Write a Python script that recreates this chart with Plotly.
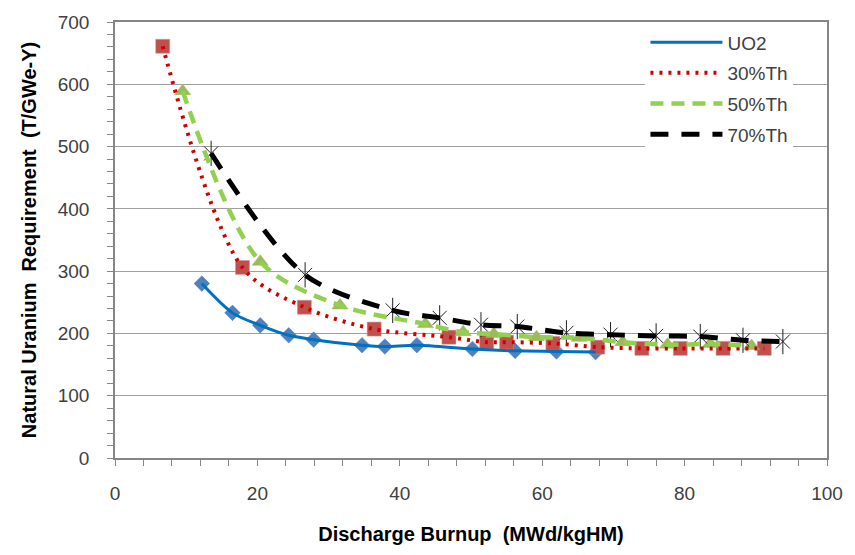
import plotly.graph_objects as go

# Data
burnup_uo2 = [12.2, 16.5, 20.4, 24.4, 27.9, 34.7, 37.9, 42.4, 50.2, 56.2, 62.0, 67.5]
nu_uo2 = [280, 233, 213, 197, 190, 181, 179, 181, 175, 172, 171, 170]

burnup_th30 = [6.7, 17.9, 26.6, 36.4, 46.9, 52.2, 55.0, 61.5, 67.8, 74.0, 79.4, 85.4, 91.2]
nu_th30 = [661, 306, 242, 207, 194, 186, 186, 184, 178, 176, 176, 176, 176]

burnup_th50 = [9.5, 20.4, 31.6, 43.6, 48.9, 53.2, 59.2, 65.2, 71.3, 77.6, 83.6, 89.4]
nu_th50 = [589, 315, 245, 215, 202, 199, 194, 193, 186, 182, 183, 180]

burnup_th70 = [13.5, 26.7, 39.0, 45.6, 51.4, 56.5, 63.4, 69.6, 76.0, 82.2, 88.2, 93.8]
nu_th70 = [489, 294, 237, 225, 214, 211, 201, 198, 196, 195, 189, 187]

series_names = ["UO2", "30%Th", "50%Th", "70%Th"]

FONT = "Liberation Sans, Arial, sans-serif"

fig = go.Figure()

# Markers (not in legend)
fig.add_trace(go.Scatter(x=burnup_uo2, y=nu_uo2, mode="markers", showlegend=False,
                         marker=dict(symbol="diamond", size=12, color="#4F81BD",
                                     line=dict(color="#4F81BD", width=0.5))))
fig.add_trace(go.Scatter(x=burnup_th30, y=nu_th30, mode="markers", showlegend=False,
                         marker=dict(symbol="square", size=14, color="#C0504D",
                                     line=dict(color="#D99694", width=0.5))))
fig.add_trace(go.Scatter(x=burnup_th50, y=nu_th50, mode="markers", showlegend=False,
                         marker=dict(symbol="triangle-up", size=14, color="#9BBB59",
                                     line=dict(color="#9BBB59", width=0.5))))
fig.add_trace(go.Scatter(x=burnup_th70, y=nu_th70, mode="markers", showlegend=False,
                         marker=dict(symbol="x-thin-open", size=14, color="#202020",
                                     line=dict(color="#202020", width=1))))
fig.add_trace(go.Scatter(x=burnup_th70, y=nu_th70, mode="markers", showlegend=False,
                         marker=dict(symbol="line-ns-open", size=18, color="#202020",
                                     line=dict(color="#202020", width=1))))

# Smoothed lines (legend)
fig.add_trace(go.Scatter(x=burnup_uo2, y=nu_uo2, mode="lines", name=series_names[0],
                         legendgroup="a", line=dict(color="#0070C0", width=3, shape="spline", smoothing=0.9)))
fig.add_trace(go.Scatter(x=burnup_th30, y=nu_th30, mode="lines", name=series_names[1],
                         legendgroup="b", line=dict(color="#D00000", width=4, dash="3px,6px",
                                                    shape="spline", smoothing=0.9)))
fig.add_trace(go.Scatter(x=burnup_th50, y=nu_th50, mode="lines", name=series_names[2],
                         legendgroup="c", line=dict(color="#92D050", width=4.5, dash="13px,8px",
                                                    shape="spline", smoothing=0.9)))
fig.add_trace(go.Scatter(x=burnup_th70, y=nu_th70, mode="lines", name=series_names[3],
                         legendgroup="d", line=dict(color="#000000", width=5, dash="18px,13px",
                                                    shape="spline", smoothing=0.9)))

fig.update_layout(
    width=855, height=555,
    margin=dict(l=115, r=22, t=12, b=97),
    paper_bgcolor="white", plot_bgcolor="white",
    font=dict(family=FONT, size=19, color="#404040"),
    legend=dict(x=0.745, y=0.997, xanchor="left", yanchor="top",
                bgcolor="white", borderwidth=0, tracegroupgap=3,
                itemwidth=72, font=dict(size=19, color="#404040")),
    xaxis=dict(range=[0, 100], tick0=0, dtick=20, showgrid=False,
               ticks="outside", ticklen=6, tickcolor="#868686",
               showline=True, linecolor="#868686", linewidth=1.5, mirror=True,
               minor=dict(dtick=4, ticks="outside", ticklen=6, tickcolor="#868686"),
               ticklabelstandoff=11, zeroline=False,
               title=dict(text="Discharge Burnup  (MWd/kgHM)", standoff=24,
                          font=dict(size=20, color="#000000", family=FONT, weight="bold"))),
    yaxis=dict(range=[0, 700], tick0=0, dtick=100, showgrid=True, gridcolor="#A0A0A0", gridwidth=1,
               ticks="outside", ticklen=6, tickcolor="#868686",
               showline=True, linecolor="#868686", linewidth=1.5, mirror=True,
               minor=dict(dtick=20, ticks="outside", ticklen=6, tickcolor="#868686"),
               ticklabelstandoff=14, zeroline=False,
               title=dict(text="Natural Uranium  Requirement  (T/GWe-Y)", standoff=16,
                          font=dict(size=20, color="#000000", family=FONT, weight="bold"))),
)

fig.write_html("out.html")
